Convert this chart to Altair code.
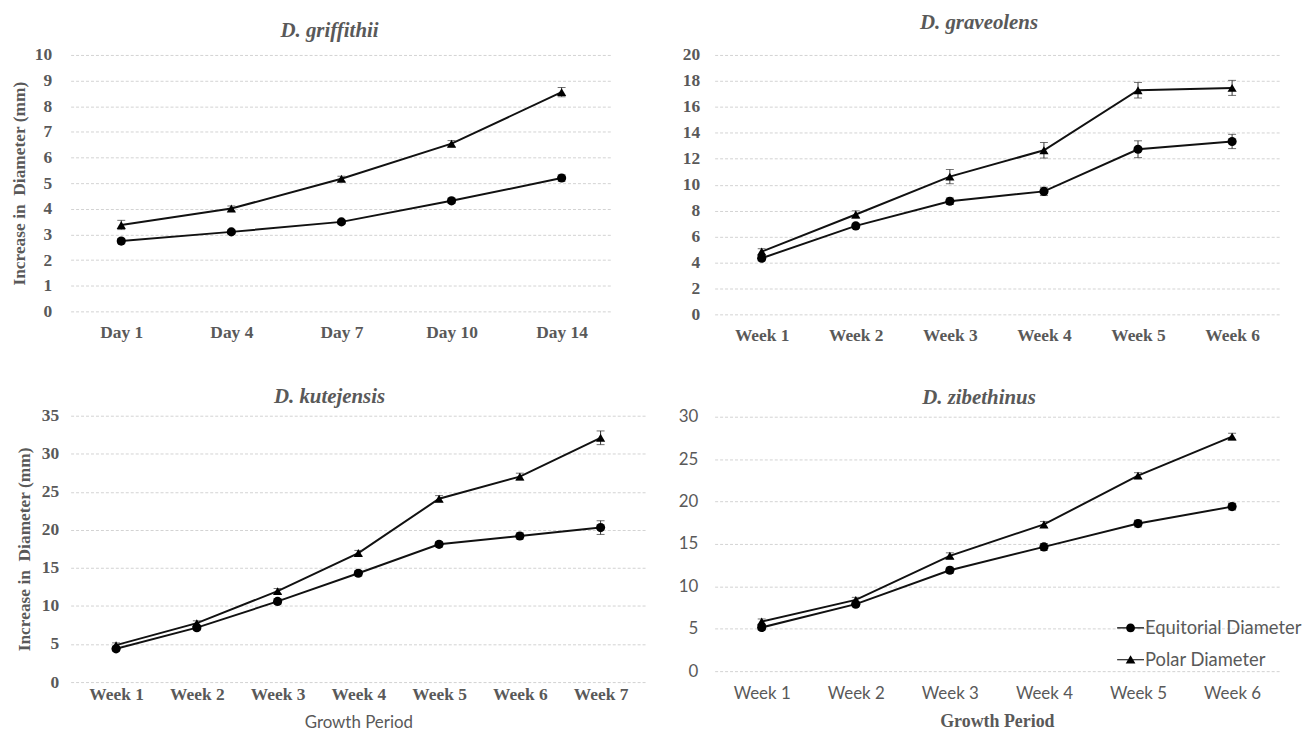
import altair as alt
import pandas as pd

SERIES = ["Equitorial Diameter", "Polar Diameter"]
GRAY = "#595959"
SERIF = "Liberation Serif"
SANS = "Lato"

# ---- D. griffithii ----
g_cats = ["Day 1", "Day 4", "Day 7", "Day 10", "Day 14"]
g_eq = [2.74, 3.10, 3.49, 4.31, 5.20]
g_eq_err = [0.10, 0.08, 0.08, 0.10, 0.12]
g_pol = [3.37, 4.01, 5.17, 6.54, 8.55]
g_pol_err = [0.18, 0.10, 0.10, 0.12, 0.18]

# ---- D. graveolens ----
v_cats = ["Week 1", "Week 2", "Week 3", "Week 4", "Week 5", "Week 6"]
v_eq = [4.33, 6.82, 8.72, 9.48, 12.73, 13.33]
v_eq_err = [0.20, 0.20, 0.25, 0.32, 0.65, 0.55]
v_pol = [4.84, 7.70, 10.62, 12.65, 17.28, 17.46]
v_pol_err = [0.22, 0.28, 0.55, 0.60, 0.60, 0.58]

# ---- D. kutejensis ----
k_cats = ["Week 1", "Week 2", "Week 3", "Week 4", "Week 5", "Week 6", "Week 7"]
k_eq = [4.37, 7.15, 10.6, 14.3, 18.1, 19.2, 20.3]
k_eq_err = [0.3, 0.3, 0.35, 0.35, 0.35, 0.4, 0.9]
k_pol = [4.85, 7.75, 11.95, 16.95, 24.1, 27.0, 32.1]
k_pol_err = [0.3, 0.3, 0.35, 0.35, 0.4, 0.45, 0.9]

# ---- D. zibethinus ----
z_cats = ["Week 1", "Week 2", "Week 3", "Week 4", "Week 5", "Week 6"]
z_eq = [5.15, 7.9, 11.9, 14.65, 17.4, 19.4]
z_eq_err = [0.3, 0.3, 0.35, 0.4, 0.4, 0.4]
z_pol = [5.85, 8.4, 13.6, 17.3, 23.05, 27.65]
z_pol_err = [0.3, 0.3, 0.35, 0.35, 0.35, 0.4]

YTITLE = "Increase in\u00a0 Diameter (mm)"
XTITLE = "Growth Period"

CIRCLE_LEG = ("M-1,-0.04L1,-0.04L1,0.04L-1,0.04Z "
              "M-0.33,0A0.33,0.33 0 1,1 0.33,0A0.33,0.33 0 1,1 -0.33,0Z")
TRI_LEG = ("M-1,-0.04L1,-0.04L1,0.04L-1,0.04Z "
           "M0,-0.33L0.36,0.28L-0.36,0.28Z")


def make_df(cats, eq, eq_err, pol, pol_err):
    rows = []
    for name, vals, errs in ((SERIES[0], eq, eq_err), (SERIES[1], pol, pol_err)):
        for c, v, e in zip(cats, vals, errs):
            rows.append({"period": c, "series": name, "value": v,
                         "lo": v - e, "hi": v + e})
    return pd.DataFrame(rows)


def style(kind):
    if kind == "serif":
        return dict(labelFont=SERIF, labelFontWeight="bold", labelFontSize=17.5,
                    labelColor=GRAY)
    return dict(labelFont=SANS, labelFontSize=17, labelColor=GRAY)


def panel(title, cats, eq, eq_err, pol, pol_err, ymax, ystep, w, h,
          xpadding=0.5, xlab="serif", ylab="serif", xpad=12, ypad=15,
          ytitle=None, ytitle_pad=5, xtitle=None, xtitle_kind="serif",
          xtitle_pad=4, title_offset=10, title_dx=0, legend=None):
    df = make_df(cats, eq, eq_err, pol, pol_err)
    xaxis_kw = dict(labelAngle=0, domain=False, ticks=False, grid=False,
                    labelPadding=xpad, **style(xlab))
    if xtitle:
        if xtitle_kind == "serif":
            xaxis_kw.update(titleFont=SERIF, titleFontWeight="bold",
                            titleFontSize=18)
        else:
            xaxis_kw.update(titleFont=SANS, titleFontWeight="normal",
                            titleFontSize=17)
        xaxis_kw.update(titleColor=GRAY, titlePadding=xtitle_pad)
    x = alt.X("period:O", sort=cats,
              scale=alt.Scale(type="point", padding=xpadding, domain=cats),
              axis=alt.Axis(**xaxis_kw), title=xtitle)

    yaxis_kw = dict(values=list(range(0, ymax + 1, ystep)), domain=False,
                    ticks=False, grid=True, gridColor="#d3d3d3",
                    gridDash=[3, 2], labelPadding=ypad, **style(ylab))
    if ytitle:
        yaxis_kw.update(titleFont=SERIF, titleFontWeight="bold",
                        titleFontSize=17.5, titleColor=GRAY,
                        titlePadding=ytitle_pad)
    yaxis = alt.Axis(**yaxis_kw)
    yscale = alt.Scale(domain=[0, ymax])

    def Y(field):
        return alt.Y(field, type="quantitative", scale=yscale, axis=yaxis,
                     title=ytitle)

    base = alt.Chart(df)
    line = base.mark_line(color="#111111", strokeWidth=2).encode(
        x=x, y=Y("value"), detail="series:N")
    err = base.mark_errorbar(ticks={"size": 8}, color="#333333",
                             thickness=1).encode(
        x=x, y=Y("lo"), y2=alt.Y2("hi"))
    pts = base.mark_point(filled=True, opacity=1, color="black",
                          size=85).encode(
        x=x, y=Y("value"),
        shape=alt.Shape("series:N",
                        scale=alt.Scale(domain=SERIES,
                                        range=["circle", "triangle-up"]),
                        legend=None))
    layers = [line, err, pts]
    if legend:
        leg = base.transform_filter("false").mark_point(
            filled=True, opacity=1, color="black").encode(
            x=x, y=Y("value"),
            shape=alt.Shape("series:N",
                            scale=alt.Scale(domain=SERIES,
                                            range=[CIRCLE_LEG, TRI_LEG]),
                            legend=alt.Legend(
                                title=None, orient="none",
                                legendX=legend[0], legendY=legend[1],
                                symbolSize=729, symbolFillColor="black",
                                symbolStrokeWidth=0,
                                labelFont=SANS, labelFontSize=18.5,
                                labelColor=GRAY, rowPadding=9,
                                labelOffset=1)))
        layers.append(leg)
    ch = alt.layer(*layers).properties(
        width=w, height=h,
        title=alt.TitleParams(title, font=SERIF, fontStyle="italic",
                              fontWeight="bold", fontSize=21, color=GRAY,
                              offset=title_offset, dx=title_dx))
    if legend:
        ch = ch.resolve_scale(shape="independent")
    return ch


tl = panel("D. griffithii", g_cats, g_eq, g_eq_err, g_pol, g_pol_err,
           10, 1, 545, 258, xpadding=0.46, xpad=12, ypad=19,
           ytitle=YTITLE, ytitle_pad=6, title_offset=5, title_dx=-12)
bl = panel("D. kutejensis", k_cats, k_eq, k_eq_err, k_pol, k_pol_err,
           35, 5, 579, 268, xpadding=0.563, xpad=4, ypad=12,
           ytitle=YTITLE, ytitle_pad=8,
           xtitle=XTITLE, xtitle_kind="sans", xtitle_pad=11,
           title_offset=0, title_dx=-29)
tr = panel("D. graveolens", v_cats, v_eq, v_eq_err, v_pol, v_pol_err,
           20, 2, 568, 261, xpad=12, ypad=15, title_offset=13, title_dx=-18)
br = panel("D. zibethinus", z_cats, z_eq, z_eq_err, z_pol, z_pol_err,
           30, 5, 568, 256, xlab="sans", ylab="sans", xpad=15, ypad=17,
           xtitle=XTITLE, xtitle_kind="serif", xtitle_pad=11,
           title_offset=0, title_dx=-18, legend=(405, 199))

left = alt.vconcat(tl, bl, spacing=45)
right = alt.vconcat(tr, br, spacing=43)
chart = alt.hconcat(left, right, spacing=32).properties(
    padding={"left": 2, "top": 2, "right": 0, "bottom": 0}
).configure_view(stroke=None)

chart.save("out.html", embed_options={"renderer": "svg", "actions": False})
